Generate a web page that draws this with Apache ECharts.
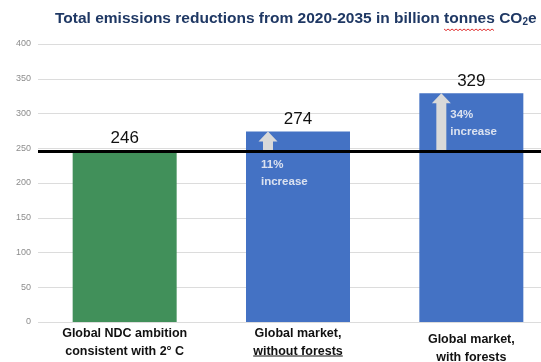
<!DOCTYPE html>
<html>
<head>
<meta charset="utf-8">
<script src="https://cdn.jsdelivr.net/npm/echarts@6/dist/echarts.min.js"></script>
<style>
  html, body { margin: 0; padding: 0; background: #fff; overflow: hidden; }
  #chart { width: 541px; height: 362px; }
</style>
</head>
<body>
<div id="chart"></div>
<script>
// Scenario names, total reductions (billion tonnes CO2e) and the 2° C reference level
const categories = ['Global NDC ambition\nconsistent with 2° C', 'Global market,\nwithout forests', 'Global market,\nwith forests'];
const reductions = [246, 274, 329];
const baseline = 246;
const increaseLabels = ['', '11%\nincrease', '34%\nincrease'];
const yMin = 0, yMax = 400, yStep = 50;

const GREEN = '#41905a';
const BLUE = '#4472c4';
const barColors = [GREEN, BLUE, BLUE];
const LABEL_FONT = 'Liberation Sans';
const TITLE_SIZE = 15.5;
const TITLE_LEFT = 50, TITLE_TOP = 5, TITLE_PAD = 5;

const chart = echarts.init(document.getElementById('chart'), null, { renderer: 'canvas' });

// arrows rising from the reference level to each market scenario's bar top
const arrowData = reductions
  .map((v, i) => [i, baseline, v, increaseLabels[i]])
  .filter(d => d[3] !== '');

const option = {
  animation: false,
  title: {
    text: '{t|Total emissions reductions from 2020-2035 in billion tonnes CO}{s|2}{t|e}',
    left: TITLE_LEFT,
    top: TITLE_TOP,
    padding: TITLE_PAD,
    textStyle: {
      rich: {
        t: { fontFamily: LABEL_FONT, fontSize: TITLE_SIZE, fontWeight: 'bold', color: '#1f3864' },
        s: { fontFamily: LABEL_FONT, fontSize: 10, fontWeight: 'bold', color: '#1f3864', padding: [7, 0, 0, 0] }
      }
    }
  },
  // the plot runs past the right edge of the canvas
  grid: { left: 38, width: 520, top: 44, height: 278, containLabel: false, outerBoundsMode: 'none' },
  xAxis: {
    type: 'category',
    data: categories,
    axisLine: { show: false },
    axisTick: { show: false },
    axisLabel: {
      margin: 3,
      interval: 0,
      formatter: (val, idx) => idx === 2 ? '{c|' + val.replace('\n', '}\n{c|') + '}' : '{a|' + val.replace('\n', '}\n{a|') + '}',
      rich: {
        a: { fontFamily: LABEL_FONT, fontSize: 12.5, fontWeight: 'bold', color: '#111', lineHeight: 18 },
        c: { fontFamily: LABEL_FONT, fontSize: 12.5, fontWeight: 'bold', color: '#111', lineHeight: 18, padding: [12, 0, 0, 0] }
      }
    }
  },
  yAxis: {
    type: 'value',
    min: yMin,
    max: yMax,
    interval: yStep,
    axisLine: { show: false },
    axisTick: { show: false },
    axisLabel: { margin: 7, color: '#8c8c8c', fontFamily: LABEL_FONT, fontSize: 9 },
    splitLine: { lineStyle: { color: '#dcdcdc', width: 1 } }
  },
  series: [
    {
      type: 'bar',
      data: reductions.map((v, i) => ({ value: v, itemStyle: { color: barColors[i] } })),
      barCategoryGap: '40%',
      label: {
        show: true,
        position: 'top',
        distance: 4,
        color: '#111',
        fontFamily: LABEL_FONT,
        fontSize: 17
      },
      markLine: {
        silent: true,
        symbol: 'none',
        label: { show: false },
        lineStyle: { color: '#000', width: 3, type: 'solid' },
        data: [{ yAxis: baseline }]
      },
      z: 2
    },
    {
      type: 'custom',
      data: arrowData,
      z: 5,
      renderItem: (params, api) => {
        const base = api.coord([api.value(0), api.value(1)]);
        const top = api.coord([api.value(0), api.value(2)]);
        const band = api.size([1, 0])[0];
        const barW = band * 0.6;
        const cx = base[0] - barW / 2 + 22;
        const shaft = 5, head = 9.5, headH = 10;
        const y0 = base[1] - 1, y1 = top[1];
        const label = arrowData[params.dataIndex][3];
        // long arrows carry their note beside them, short ones below the reference line
        const long = (y0 - y1) > 40;
        const ty = long ? (y0 + y1) / 2 - 15 : y0 + 6;
        const tx = long ? cx + 9 : cx - 7;
        return {
          type: 'group',
          children: [
            {
              type: 'polygon',
              shape: {
                points: [
                  [cx - shaft, y0], [cx - shaft, y1 + headH], [cx - head, y1 + headH],
                  [cx, y1], [cx + head, y1 + headH], [cx + shaft, y1 + headH], [cx + shaft, y0]
                ]
              },
              style: { fill: '#d9d9d9' }
            },
            {
              type: 'text',
              x: tx,
              y: ty,
              style: {
                text: label,
                fill: '#dbe2f0',
                font: 'bold 11.5px ' + LABEL_FONT,
                lineHeight: 17,
                align: 'left',
                verticalAlign: 'top'
              }
            }
          ]
        };
      }
    }
  ]
};

chart.setOption(option);

// spell-check squiggle under "tonnes" and underline under "without forests"
function decorate() {
  const ctx = document.createElement('canvas').getContext('2d');
  ctx.font = 'bold 12.5px ' + LABEL_FONT;
  const w = ctx.measureText('without forests').width;
  const cx = chart.convertToPixel({ xAxisIndex: 0 }, categories[1]);
  const y0 = chart.convertToPixel({ yAxisIndex: 0 }, 0);

  ctx.font = 'bold ' + TITLE_SIZE + 'px ' + LABEL_FONT;
  const pre = ctx.measureText('Total emissions reductions from 2020-2035 in billion ').width;
  const tw = ctx.measureText('tonnes').width;
  const sx = TITLE_LEFT + TITLE_PAD + pre, sy = TITLE_TOP + TITLE_PAD + 19;
  const squiggle = [];
  for (let x = 0; x <= tw; x += 2) squiggle.push([sx + x, sy + ((x / 2) % 2 === 0 ? 0 : 1.6)]);

  chart.setOption({
    graphic: [
      {
        type: 'line',
        shape: { x1: cx - w / 2, y1: y0 + 34, x2: cx + w / 2, y2: y0 + 34 },
        style: { stroke: '#111', lineWidth: 1 }
      },
      {
        type: 'polyline',
        shape: { points: squiggle },
        style: { stroke: '#e03030', lineWidth: 1, fill: null }
      }
    ]
  });
}
decorate();
</script>
</body>
</html>
